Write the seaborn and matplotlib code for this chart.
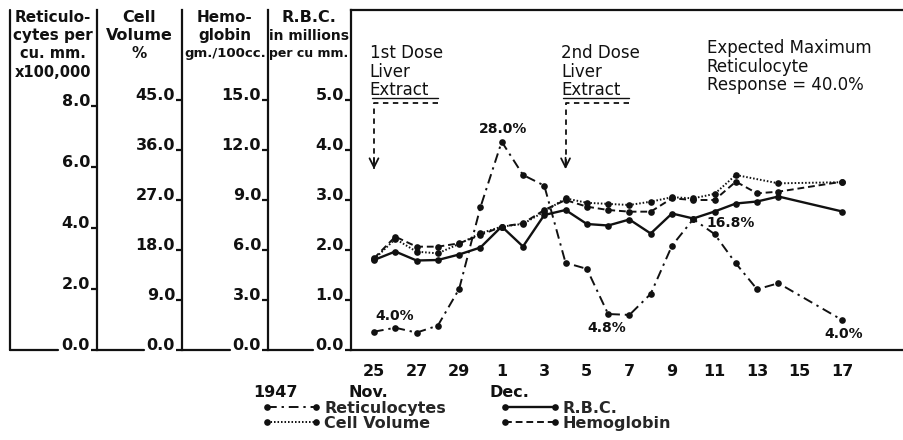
import pandas as pd
import seaborn as sns
import matplotlib.pyplot as plt
import matplotlib.dates as mdates
from matplotlib.ticker import FuncFormatter

# sampling days (no readings on Dec 15 and 16)
days = pd.to_datetime([
    "1947-11-25", "1947-11-26", "1947-11-27", "1947-11-28", "1947-11-29", "1947-11-30",
    "1947-12-01", "1947-12-02", "1947-12-03", "1947-12-04", "1947-12-05", "1947-12-06",
    "1947-12-07", "1947-12-08", "1947-12-09", "1947-12-10", "1947-12-11", "1947-12-12",
    "1947-12-13", "1947-12-14", "1947-12-17"])

reticulocytes = [0.60, 0.73, 0.57, 0.80, 2.00, 4.68, 6.83, 5.74, 5.39, 2.86, 2.66,
                 1.18, 1.15, 1.84, 3.42, 4.29, 3.80, 2.84, 1.99, 2.19, 0.98]
cell_volume = [16.3, 20.0, 17.7, 17.4, 19.1, 21.0, 22.2, 22.7, 24.9, 27.3, 26.5,
               26.3, 26.1, 26.7, 27.5, 27.3, 28.1, 31.5, None, 30.0, 30.2]
hemoglobin = [5.5, 6.8, 6.2, 6.2, 6.4, 6.9, 7.4, 7.6, 8.4, 9.0, 8.6,
              8.4, 8.3, 8.3, 9.1, 9.0, 9.0, 10.1, 9.4, 9.5, 10.1]
rbc = [1.80, 1.97, 1.79, 1.80, 1.91, 2.05, 2.47, 2.07, 2.70, 2.80, 2.52,
       2.49, 2.61, 2.33, 2.73, 2.63, 2.77, 2.93, 2.97, 3.07, 2.77]

pct_days = ["1947-11-25", "1947-12-01", "1947-12-06", "1947-12-10", "1947-12-17"]
pct_labels = ["4.0%", "28.0%", "4.8%", "16.8%", "4.0%"]
pct_offsets = [(15, 11), (1, 9), (-1, -10), (27, -3), (1, -10)]

dose_days = ["1947-11-25", "1947-12-04"]
dose_labels = ["1st Dose\nLiver\nExtract", "2nd Dose\nLiver\nExtract"]

df = pd.DataFrame({"day": days, "ret": reticulocytes, "cv": cell_volume,
                   "hb": hemoglobin, "rbc": rbc})

sns.set_style("white")
plt.rcParams["font.family"] = ["DejaVu Sans"]
ink = "#111111"

W, H = 904, 440
fig = plt.figure(figsize=(W / 100, H / 100), dpi=100)
ax = fig.add_axes([351 / W, 1 - 350 / H, (W - 351) / W, 340 / H])
axw = W - 351

tick_font = dict(fontsize=11.5, fontweight="bold", color=ink)


def style_scale(a, top, ticks):
    a.set_ylim(0, top)
    a.set_yticks(ticks)
    a.set_yticklabels([f"{t:.1f}" for t in ticks], **tick_font)
    plt.setp(a.get_yticklabels(), va="baseline")
    a.tick_params(axis="y", direction="out", length=4, width=1.6, pad=1, color=ink)


def scale_axis(xpx, top, ticks):
    t = ax.twinx()
    t.yaxis.set_ticks_position("left")
    t.yaxis.set_label_position("left")
    t.spines["left"].set_position(("axes", (xpx - 351) / axw))
    t.spines["left"].set_visible(True)
    t.spines["left"].set_linewidth(1.6)
    t.spines["left"].set_color(ink)
    for s in ["right", "top", "bottom"]:
        t.spines[s].set_visible(False)
    style_scale(t, top, ticks)
    return t


ax_ret = scale_axis(97, 340 / 30.5, [0, 2, 4, 6, 8])
ax_cv = scale_axis(182, 6.8 * 9, [0, 9, 18, 27, 36, 45])
ax_hb = scale_axis(268, 6.8 * 3, [0, 3, 6, 9, 12, 15])

mk = dict(marker="o", markersize=4.8, markeredgewidth=0, color=ink)
d = df.dropna(subset=["rbc"])
sns.lineplot(data=d, x="day", y="rbc", ax=ax, lw=1.7, **mk)
d = df.dropna(subset=["ret"])
sns.lineplot(data=d, x="day", y="ret", ax=ax_ret, lw=1.4, ls=(0, (5, 2.5, 1.2, 2.5)), **mk)
d = df.dropna(subset=["cv"])
sns.lineplot(data=d, x="day", y="cv", ax=ax_cv, lw=1.4, ls=(0, (0.8, 1.0)), **mk)
d = df.dropna(subset=["hb"])
sns.lineplot(data=d, x="day", y="hb", ax=ax_hb, lw=1.4, ls=(0, (3.5, 2)), **mk)
handles = [ax_ret.lines[0], ax_cv.lines[0], ax.lines[0], ax_hb.lines[0]]
for a in [ax, ax_ret, ax_cv, ax_hb]:
    a.set_ylabel("")
    a.set_xlabel("")

style_scale(ax, 6.8, [0, 1, 2, 3, 4, 5])
for s in ["left", "top", "bottom"]:
    ax.spines[s].set_linewidth(1.6)
    ax.spines[s].set_color(ink)
ax.spines["right"].set_visible(False)

# date axis
start = pd.Timestamp("1947-11-25")
last = pd.Timestamp("1947-12-17")
ax.set_xlim(start - pd.Timedelta(days=1.08), start + pd.Timedelta(days=24.9))
ax.xaxis.set_major_locator(mdates.DayLocator(bymonthday=range(1, 32, 2)))
ax.xaxis.set_minor_locator(mdates.DayLocator())


def day_label(v, p):
    dt = mdates.num2date(v).replace(tzinfo=None)
    return str(dt.day) if dt <= last.to_pydatetime() else ""


ax.xaxis.set_major_formatter(FuncFormatter(day_label))
ax.tick_params(axis="x", which="both", direction="out", length=7, width=1.5, color=ink)
ax.tick_params(axis="x", which="major", pad=3, labelsize=11.5)
plt.setp(ax.get_xticklabels(), fontweight="bold", color=ink)

# left-most rule and the short base lines of each scale column
lx = (10 - 351) / axw
ax.plot([lx, lx], [0, 1], transform=ax.transAxes, clip_on=False, color=ink, lw=1.6)
for x0, x1 in [(10, 58), (97, 144), (182, 230), (268, 313)]:
    ax.plot([(x0 - 351) / axw, (x1 - 351) / axw], [0, 0], transform=ax.transAxes,
            clip_on=False, color=ink, lw=1.6)

# column headers
head = dict(ha="center", va="center", fontweight="bold", color=ink)
cols = [(53, ["Reticulo-", "cytes per", "cu. mm.", "x100,000"], [11, 11, 10.5, 10.5]),
        (139, ["Cell", "Volume", "%"], [11.5, 11.5, 11]),
        (225, ["Hemo-", "globin", "gm./100cc."], [11, 11, 9.5]),
        (309, ["R.B.C.", "in millions", "per cu mm."], [11.5, 10, 9])]
for cx, lines, sizes in cols:
    for i, (txt, size) in enumerate(zip(lines, sizes)):
        fig.text(cx / W, 1 - (17 + 18.5 * i) / H, txt, fontsize=size, **head)

# reticulocyte percentages
for dd, lab, off in zip(pct_days, pct_labels, pct_offsets):
    yv = df.loc[df["day"] == pd.Timestamp(dd), "ret"].iloc[0]
    ax_ret.annotate(lab, xy=(pd.Timestamp(dd), yv), xytext=off, textcoords="offset points",
                    ha="center", va="center", fontsize=10, fontweight="bold", color=ink)

# liver extract doses
for dd, lab in zip(dose_days, dose_labels):
    x0 = pd.Timestamp(dd)
    ax.text(x0 - pd.Timedelta(days=0.2), 6.12, lab, ha="left", va="top", fontsize=12,
            linespacing=1.05, color=ink)
    ax.plot([x0 - pd.Timedelta(days=0.1), x0 + pd.Timedelta(days=3.0)], [5.05, 5.05],
            color=ink, lw=1.0)
    ax.plot([x0 + pd.Timedelta(days=3.0), x0, x0], [4.95, 4.95, 3.62], color=ink, lw=1.3,
            ls=(0, (3, 2.5)))
    ax.annotate("", xy=(x0, 3.56), xytext=(x0, 3.9),
                arrowprops=dict(arrowstyle="->", color=ink, lw=1.3, mutation_scale=16))

ax.text(0.643, 0.915, "Expected Maximum\nReticulocyte\nResponse = 40.0%", transform=ax.transAxes,
        ha="left", va="top", fontsize=12, linespacing=1.05, color=ink)

# date captions
cap = dict(ha="center", va="center", fontsize=11.5, fontweight="bold", color=ink)
fig.text(275 / W, 1 - 392 / H, "1947", **cap)
fig.text(368 / W, 1 - 392 / H, "Nov.", **cap)
fig.text(509 / W, 1 - 392 / H, "Dec.", **cap)

fig.legend(handles, ["Reticulocytes", "Cell Volume", "R.B.C.", "Hemoglobin"], ncol=2,
           loc="upper left", bbox_to_anchor=(262 / W, 1 - 401 / H), frameon=False,
           numpoints=2, handlelength=3.7, handletextpad=0.2, columnspacing=3.4,
           labelspacing=0.0, borderpad=0, borderaxespad=0,
           prop=dict(weight="bold", size=11.5))

fig.savefig("out.png", dpi=100)
